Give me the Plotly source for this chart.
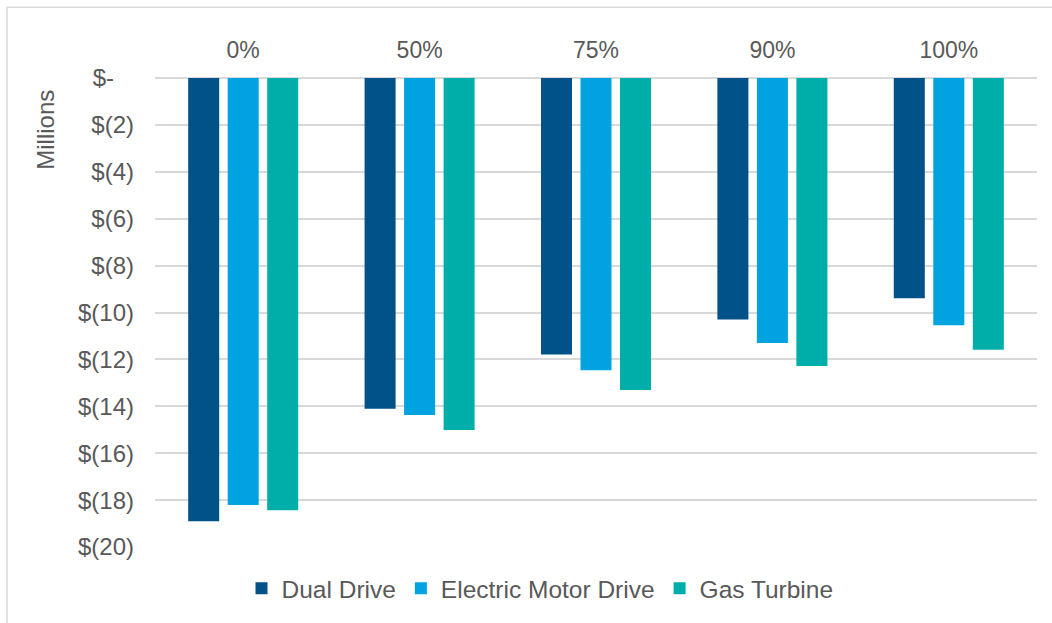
import plotly.graph_objects as go

# Scenario categories (share of operating hours)
categories = ["0%", "50%", "75%", "90%", "100%"]

# Net present cost, millions of dollars (negative = cost)
dual_drive = [-18.90, -14.10, -11.79, -10.30, -9.39]
electric_motor_drive = [-18.21, -14.37, -12.46, -11.30, -10.54]
gas_turbine = [-18.43, -15.01, -13.30, -12.28, -11.59]

# Y axis ticks and accounting-style labels
tick_values = [0, -2, -4, -6, -8, -10, -12, -14, -16, -18, -20]
tick_labels = ["$-\u00a0\u00a0\u00a0", "$(2)", "$(4)", "$(6)", "$(8)", "$(10)",
               "$(12)", "$(14)", "$(16)", "$(18)", "$(20)"]

series = [
    ("Dual Drive", dual_drive, "#005288"),
    ("Electric Motor Drive", electric_motor_drive, "#00A3E0"),
    ("Gas Turbine", gas_turbine, "#00AEA9"),
]

grey_text = "#595959"
grid = "#D9D9D9"
font_family = "Liberation Sans, Arial, sans-serif"

fig = go.Figure()
for name, values, color in series:
    fig.add_trace(go.Bar(
        name=name, x=categories, y=values,
        marker=dict(color=color, line=dict(width=0)),
    ))

fig.update_layout(
    width=1052, height=623,
    margin=dict(l=155, r=15, t=78, b=74),
    paper_bgcolor="white", plot_bgcolor="white",
    barmode="group", bargap=0.328, bargroupgap=0.215,
    font=dict(family=font_family, color=grey_text, size=23),
    showlegend=True,
    legend=dict(
        orientation="h", x=0.4365, xanchor="center", y=-0.04, yanchor="top",
        font=dict(size=24.5, color=grey_text), itemwidth=30,
        traceorder="normal",
    ),
    xaxis=dict(
        side="top", showgrid=False, showline=False, ticks="",
        tickfont=dict(size=23, color=grey_text), ticklabelstandoff=14,
    ),
    yaxis=dict(
        range=[-20, 0], tickvals=tick_values, ticktext=tick_labels,
        showgrid=True, gridcolor=grid, gridwidth=2,
        zeroline=True, zerolinecolor=grid, zerolinewidth=2,
        showline=False, ticks="", tickfont=dict(size=24, color=grey_text),
        ticklabelstandoff=20,
    ),
    shapes=[dict(
        type="rect", xref="paper", yref="paper",
        x0=(7 - 155) / 882, x1=(1070 - 155) / 882,
        y0=(549 - 640) / 471, y1=(549 - 7) / 471,
        line=dict(color=grid, width=1.5), fillcolor="rgba(0,0,0,0)",
        layer="below",
    )],
    annotations=[dict(
        text="Millions", textangle=-90, xref="paper", yref="paper",
        x=(46 - 155) / 882, y=(549 - 130) / 471,
        xanchor="center", yanchor="middle", showarrow=False,
        font=dict(size=24, color=grey_text),
    )],
)

fig.write_html("out.html")
